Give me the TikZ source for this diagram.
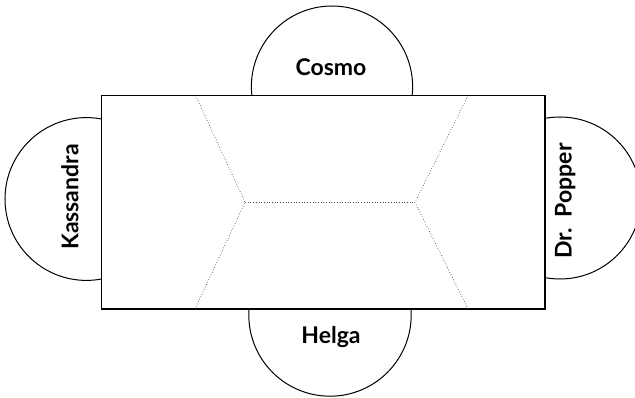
\documentclass[tikz,border=0pt]{standalone}
\usepackage{fontspec}
\setmainfont{Lato}
\begin{document}
\begin{tikzpicture}[x=1pt,y=1pt,
  seat/.style={draw=black,fill=white,line width=1pt},
  tablebox/.style={draw=black,fill=white,line width=1.2pt},
  split/.style={dotted,line width=0.7pt,draw=black!70},
  seatlabel/.style={font=\bfseries\fontsize{23}{25}\selectfont,inner sep=0pt,anchor=base}]
\useasboundingbox (0,0) rectangle (635,397);
\draw[seat] (332,310.4) circle[radius=80.6];
\draw[seat] (330,82) circle[radius=81.2];
\draw[seat] (86.4,198) circle[radius=81.4];
\draw[seat] (560,199) circle[radius=81];
\draw[tablebox] (101.5,88) rectangle (545,301.3);
\coordinate (tl) at (195.7,301.3);
\coordinate (bl) at (195,88);
\coordinate (ml) at (245,194.7);
\coordinate (mr) at (415,194.7);
\coordinate (tr) at (468,301.3);
\coordinate (br) at (468,88);
\draw[split] (tl) -- (ml) -- (bl);
\draw[split] (tr) -- (mr) -- (br);
\draw[split] (ml) -- (mr);
\node[seatlabel] (cosmo) at (331,321) {Cosmo};
\node[seatlabel] (helga) at (331,54) {Helga};
\node[seatlabel,rotate=90] (kass) at (78.3,200) {Kassandra};
\node[seatlabel,rotate=90] (popper) at (571.7,196) {Dr.\ \ Popper};
\end{tikzpicture}
\end{document}
